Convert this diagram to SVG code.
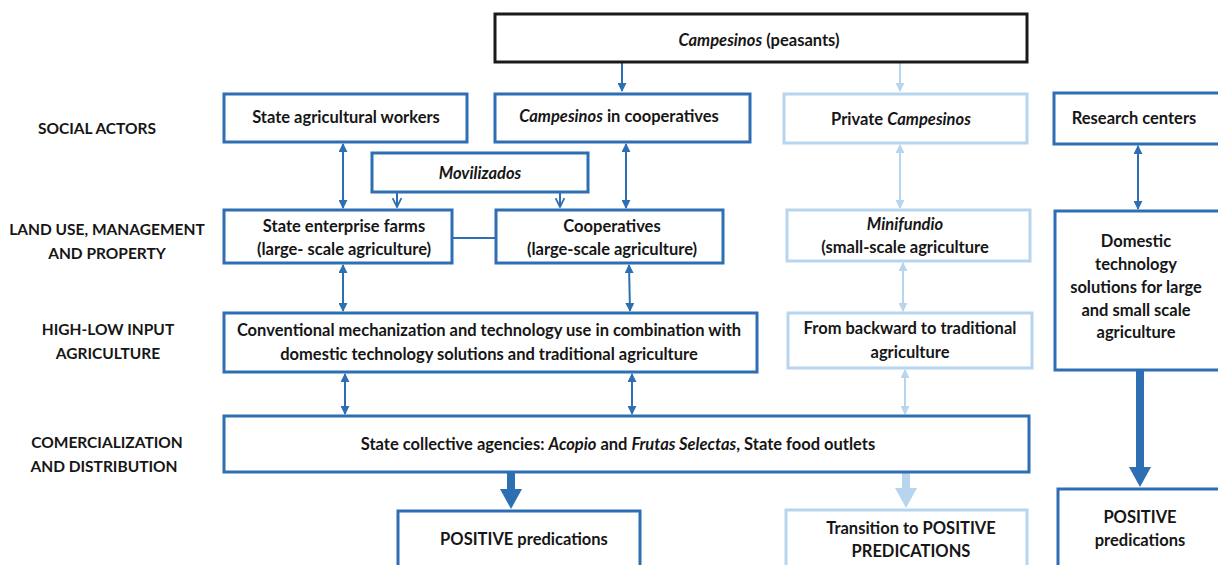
<svg xmlns="http://www.w3.org/2000/svg" width="1218" height="565" viewBox="0 0 1218 565">
  <defs>
    <style>
      text { font-family: Lato, "Liberation Sans", sans-serif; font-weight: bold; font-size: 16.5px; fill: #161616; text-anchor: middle; dominant-baseline: central; }
      .lbl { font-size: 15.5px; }
      .it { font-style: italic; }
      .box { fill: #ffffff; stroke-width: 3; }
      .dark { stroke: #2e6fb3; }
      .light { stroke: #b7d5ee; }
      .top { stroke: #1a1a1a; }
      .lnD { stroke: #2e6fb3; stroke-width: 2; fill: none; }
      .lnL { stroke: #b7d5ee; stroke-width: 2; fill: none; }
      .fatD { stroke: #2e6fb3; stroke-width: 8; fill: none; }
      .fatL { stroke: #b7d5ee; stroke-width: 8; fill: none; }
      .headD { fill: #2e6fb3; }
      .headL { fill: #b7d5ee; }
    </style>
    <marker id="aD" viewBox="0 0 10 10" refX="9" refY="5" markerWidth="4.5" markerHeight="4.5" orient="auto-start-reverse" markerUnits="strokeWidth">
      <path d="M0,0 L10,5 L0,10 z" fill="#2e6fb3"/>
    </marker>
    <marker id="aL" viewBox="0 0 10 10" refX="9" refY="5" markerWidth="4.5" markerHeight="4.5" orient="auto-start-reverse" markerUnits="strokeWidth">
      <path d="M0,0 L10,5 L0,10 z" fill="#b7d5ee"/>
    </marker>
    <marker id="vD" viewBox="0 0 10 10" refX="9" refY="5" markerWidth="5.5" markerHeight="5.5" orient="auto" markerUnits="strokeWidth">
      <path d="M1,1 L9,5 L1,9" fill="none" stroke="#2e6fb3" stroke-width="1.6"/>
    </marker>
  </defs>

  <!-- row labels -->
  <g id="labels">
    <text class="lbl" x="97" y="128">SOCIAL ACTORS</text>
    <text class="lbl" x="107" y="229">LAND USE, MANAGEMENT</text>
    <text class="lbl" x="107" y="253">AND PROPERTY</text>
    <text class="lbl" x="108" y="329">HIGH-LOW INPUT</text>
    <text class="lbl" x="108" y="353">AGRICULTURE</text>
    <text class="lbl" x="107" y="442">COMERCIALIZATION</text>
    <text class="lbl" x="104" y="466">AND DISTRIBUTION</text>
  </g>

  <!-- connectors -->
  <g id="connectors">
    <line class="lnD" x1="622" y1="62" x2="622" y2="91" marker-end="url(#aD)"/>
    <line class="lnL" x1="900" y1="62" x2="900" y2="91" marker-end="url(#aL)"/>

    <line class="lnD" x1="343" y1="144" x2="343" y2="208" marker-start="url(#aD)" marker-end="url(#aD)"/>
    <line class="lnD" x1="626" y1="144" x2="626" y2="208" marker-start="url(#aD)" marker-end="url(#aD)"/>
    <line class="lnL" x1="900" y1="145" x2="900" y2="208" marker-start="url(#aL)" marker-end="url(#aL)"/>
    <line class="lnD" x1="1138" y1="146" x2="1138" y2="209" marker-start="url(#aD)" marker-end="url(#aD)"/>

    <line class="lnD" x1="397" y1="192" x2="397" y2="207" marker-end="url(#vD)"/>
    <line class="lnD" x1="560" y1="192" x2="560" y2="207" marker-end="url(#vD)"/>

    <line class="lnD" x1="452" y1="238" x2="496" y2="238"/>

    <line class="lnD" x1="343" y1="265" x2="343" y2="311" marker-start="url(#aD)" marker-end="url(#aD)"/>
    <line class="lnD" x1="629" y1="265" x2="630" y2="311" marker-start="url(#aD)" marker-end="url(#aD)"/>
    <line class="lnL" x1="903" y1="263" x2="903" y2="311" marker-start="url(#aL)" marker-end="url(#aL)"/>

    <line class="lnD" x1="345" y1="374" x2="345" y2="414" marker-start="url(#aD)" marker-end="url(#aD)"/>
    <line class="lnD" x1="632" y1="374" x2="632" y2="414" marker-start="url(#aD)" marker-end="url(#aD)"/>
    <line class="lnL" x1="905" y1="370" x2="905" y2="414" marker-start="url(#aL)" marker-end="url(#aL)"/>

    <line class="fatD" x1="511" y1="473" x2="511" y2="490"/>
    <path class="headD" d="M500,489 L522,489 L511,509 z"/>
    <line class="fatL" x1="906" y1="473" x2="906" y2="489"/>
    <path class="headL" d="M895,488 L917,488 L906,508 z"/>
    <line class="fatD" x1="1140" y1="371" x2="1140" y2="468"/>
    <path class="headD" d="M1129,467 L1151,467 L1140,487 z"/>
  </g>

  <g id="n-campesinos">
    <rect class="box top" x="495" y="14" width="532" height="48"/>
    <text x="759" y="40"><tspan class="it">Campesinos</tspan> (peasants)</text>
  </g>

  <g id="n-state-workers">
    <rect class="box dark" x="224" y="94" width="243" height="48"/>
    <text x="346" y="117">State agricultural workers</text>
  </g>
  <g id="n-camp-coop">
    <rect class="box dark" x="495" y="94" width="255" height="48"/>
    <text x="619" y="116"><tspan class="it">Campesinos</tspan> in cooperatives</text>
  </g>
  <g id="n-private">
    <rect class="box light" x="784" y="94" width="243" height="49"/>
    <text x="901" y="119">Private <tspan class="it">Campesinos</tspan></text>
  </g>
  <g id="n-research">
    <rect class="box dark" x="1054" y="93" width="166" height="51"/>
    <text x="1134" y="118">Research centers</text>
  </g>

  <g id="n-movilizados">
    <rect class="box dark" x="372" y="153" width="216" height="39"/>
    <text class="it" x="480" y="173">Movilizados</text>
  </g>

  <g id="n-state-farms">
    <rect class="box dark" x="224" y="210" width="228" height="53"/>
    <text x="344" y="226">State enterprise farms</text>
    <text x="344" y="249">(large- scale agriculture)</text>
  </g>
  <g id="n-cooperatives">
    <rect class="box dark" x="496" y="210" width="227" height="53"/>
    <text x="612" y="226">Cooperatives</text>
    <text x="612" y="249">(large-scale agriculture)</text>
  </g>
  <g id="n-minifundio">
    <rect class="box light" x="787" y="210" width="243" height="51"/>
    <text class="it" x="905" y="224">Minifundio</text>
    <text x="905" y="247">(small-scale agriculture</text>
  </g>
  <g id="n-domestic">
    <rect class="box dark" x="1055" y="211" width="165" height="159"/>
    <text x="1136" y="241">Domestic</text>
    <text x="1136" y="264">technology</text>
    <text x="1136" y="287">solutions for large</text>
    <text x="1136" y="310">and small scale</text>
    <text x="1136" y="332">agriculture</text>
  </g>

  <g id="n-conventional">
    <rect class="box dark" x="224" y="313" width="533" height="59"/>
    <text x="489" y="330">Conventional mechanization and technology use in combination with</text>
    <text x="489" y="354">domestic technology solutions and traditional agriculture</text>
  </g>
  <g id="n-backward">
    <rect class="box light" x="788" y="313" width="244" height="55"/>
    <text x="910" y="328">From backward to traditional</text>
    <text x="910" y="352">agriculture</text>
  </g>

  <g id="n-state-agencies">
    <rect class="box dark" x="224" y="416" width="805" height="56"/>
    <text x="618" y="444">State collective agencies: <tspan class="it">Acopio</tspan> and <tspan class="it">Frutas Selectas</tspan>, State food outlets</text>
  </g>

  <g id="n-positive-1">
    <rect class="box dark" x="398" y="511" width="242" height="60"/>
    <text x="524" y="539">POSITIVE predications</text>
  </g>
  <g id="n-transition">
    <rect class="box light" x="786" y="510" width="241" height="60"/>
    <text x="911" y="528">Transition to POSITIVE</text>
    <text x="911" y="551">PREDICATIONS</text>
  </g>
  <g id="n-positive-2">
    <rect class="box dark" x="1058" y="489" width="162" height="80"/>
    <text x="1140" y="517">POSITIVE</text>
    <text x="1140" y="540">predications</text>
  </g>
</svg>
